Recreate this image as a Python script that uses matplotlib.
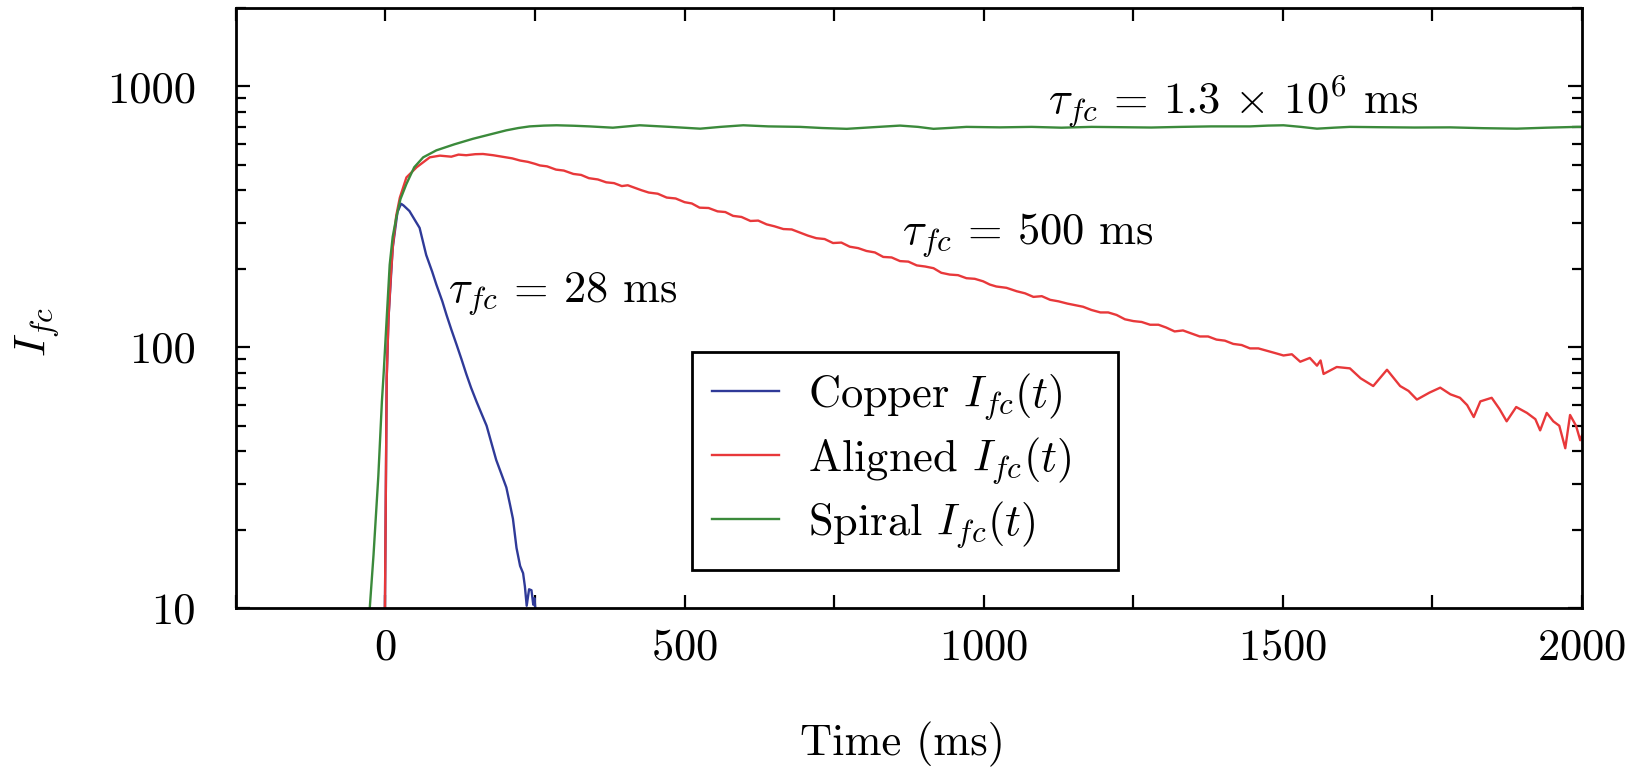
import matplotlib
matplotlib.use("Agg")
import matplotlib.pyplot as plt
import matplotlib.ticker as ticker

# LaTeX-artige Optik mit den mitgelieferten Computer-Modern-Fonts
plt.rcParams['font.family'] = 'serif'
plt.rcParams['font.serif'] = ['cmr10', 'DejaVu Serif']
plt.rcParams['mathtext.fontset'] = 'cm'
plt.rcParams['axes.formatter.use_mathtext'] = True

# Copper
copper_t = [-1, 2, 5, 12, 20, 26, 30, 40, 50, 57, 68, 78, 85, 95, 102, 110, 119, 127,
            135, 143, 152, 160, 169, 177, 185, 193, 202, 208, 213, 219, 225, 230, 233,
            236, 240, 244, 247, 249, 252]
copper_I = [9.5, 76, 129, 240, 330, 355, 350, 333, 305, 287, 226, 195, 174, 150, 133, 117,
            102, 90, 79, 70, 62, 56, 50, 43, 37, 33, 29, 25, 22, 17, 14.5, 13.6, 12.1,
            10.2, 11.8, 11.7, 10.3, 10.9, 9]

# Aligned
aligned_t = [-1, 2, 5, 9, 12.5, 18, 24, 35, 52, 74, 91, 110, 122, 135, 150, 163, 180,
             202, 212, 225, 238, 250, 258, 270, 285, 298, 314, 327, 340, 355, 369, 382,
             395, 405, 414, 428, 440, 455, 470, 485, 500, 512, 525, 540, 555, 568, 581,
             595, 610, 623, 637, 650, 665, 679, 693, 706, 720, 734, 748, 762, 776, 790,
             804, 818, 832, 846, 860, 874, 888, 902, 916, 929, 943, 957, 971, 985, 999,
             1010, 1021, 1038, 1055, 1069, 1083, 1097, 1111, 1125, 1140, 1153, 1166,
             1180, 1195, 1208, 1222, 1236, 1250, 1264, 1278, 1292, 1305, 1319, 1333,
             1347, 1361, 1375, 1389, 1403, 1417, 1431, 1445, 1459, 1473, 1487, 1501,
             1515, 1529, 1545, 1557, 1563, 1568, 1590, 1612, 1630, 1651, 1674, 1696,
             1710, 1724, 1745, 1763, 1780, 1796, 1808, 1819, 1830, 1849, 1862, 1874,
             1890, 1908, 1922, 1930, 1941, 1952, 1962, 1972, 1980, 1990, 1997, 2000]
aligned_I = [9.5, 76, 129, 190, 248, 320, 375, 448, 490, 535, 543, 538, 548, 545, 550,
             551, 545, 535, 530, 520, 514, 505, 498, 494, 480, 476, 462, 458, 445, 440,
             429, 426, 415, 418, 411, 400, 392, 388, 375, 372, 360, 356, 343, 342, 332,
             330, 319, 316, 305, 306, 296, 291, 284, 283, 275, 268, 262, 260, 251, 252,
             243, 240, 234, 231, 222, 221, 214, 213, 206, 204, 201, 193, 190, 189, 184,
             183, 179, 174, 171, 169, 164, 161, 156, 157, 152, 150, 147, 145, 143, 139,
             136, 136, 133, 128, 126, 125, 122, 122, 119, 115, 116, 113, 110, 110, 107,
             106, 103, 102, 99, 99, 97, 95, 93, 94, 88, 91, 85, 89, 79, 84, 83, 76, 71,
             82, 71, 68, 63, 67, 70, 66, 64, 60, 54, 62, 64, 58, 52, 59, 56, 53, 48, 56,
             52, 50, 41, 55, 50, 44, 46]

# Spiral
spiral_t = [-27, -20, -12, -6, -3, 2, 7, 12, 18, 25, 35, 48, 63, 85, 115, 146, 175, 202,
            222, 241, 265, 286, 315, 341, 380, 425, 475, 526, 560, 598, 640, 693, 730,
            771, 815, 860, 890, 916, 945, 971, 1027, 1080, 1130, 1180, 1230, 1280, 1330,
            1380, 1445, 1475, 1501, 1530, 1557, 1585, 1612, 1660, 1720, 1780, 1835, 1891,
            1940, 1992, 2000]
spiral_I = [9.5, 16, 32, 62, 80, 129, 207, 265, 314, 370, 423, 490, 535, 569, 600, 630,
            655, 679, 693, 703, 708, 710, 707, 703, 695, 710, 700, 689, 700, 710, 703,
            700, 693, 688, 698, 708, 700, 688, 694, 700, 697, 700, 695, 700, 698, 696,
            700, 703, 703, 708, 710, 700, 689, 695, 700, 698, 696, 697, 692, 689, 695,
            700, 700]

labels = [r'Copper $I_{fc}(t)$', r'Aligned $I_{fc}(t)$', r'Spiral $I_{fc}(t)$']
colors = ['#2f3a98', '#e8383a', '#3b8a3b']

fig = plt.figure(figsize=(16.35, 7.68), dpi=100)
ax = fig.add_axes([0.1443, 0.2083, 0.8233, 0.7813])

ax.plot(copper_t, copper_I, color=colors[0], lw=1.7, label=labels[0])
ax.plot(aligned_t, aligned_I, color=colors[1], lw=1.7, label=labels[1])
ax.plot(spiral_t, spiral_I, color=colors[2], lw=1.7, label=labels[2])

ax.set_yscale('log')
ax.set_xlim(-250, 2000)
ax.set_ylim(10, 2000)

ax.xaxis.set_major_locator(ticker.MultipleLocator(500))
ax.xaxis.set_minor_locator(ticker.MultipleLocator(250))
ax.yaxis.set_major_locator(ticker.FixedLocator([10, 100, 1000]))
ax.yaxis.set_major_formatter(ticker.FuncFormatter(lambda v, p: f'{v:g}'))
ax.yaxis.set_minor_formatter(ticker.NullFormatter())

ax.tick_params(which='both', direction='in', top=True, right=True, width=1.6, labelsize=32)
ax.tick_params(axis='x', which='both', length=9.5, pad=15)
ax.tick_params(axis='y', which='major', length=10, pad=29)
ax.tick_params(axis='y', which='minor', length=7)
for s in ax.spines.values():
    s.set_linewidth(2)

ax.set_xlabel('Time (ms)', fontsize=32)
ax.xaxis.set_label_coords(0.495, -0.19)
ax.set_ylabel(r'$I_{fc}$', fontsize=32)
ax.yaxis.set_label_coords(-0.13, 0.46)

ax.text(105, 161, r'$\tau_{fc}$ = 28 ms', fontsize=32, va='center')
ax.text(863, 268, r'$\tau_{fc}$ = 500 ms', fontsize=32, va='center')
ax.text(1107, 879, r'$\tau_{fc}$ = 1.3 $\times$ 10$^6$ ms', fontsize=32, va='center')

leg = ax.legend(loc='upper left', bbox_to_anchor=(0.339, 0.06, 0.316, 0.367),
                mode='expand', borderaxespad=0,
                fontsize=32, fancybox=False, framealpha=1, edgecolor='black',
                handlelength=1.5, handletextpad=0.65, labelspacing=0.3, borderpad=0.45)
leg.get_frame().set_linewidth(2)

fig.savefig('out.png', dpi=100)
